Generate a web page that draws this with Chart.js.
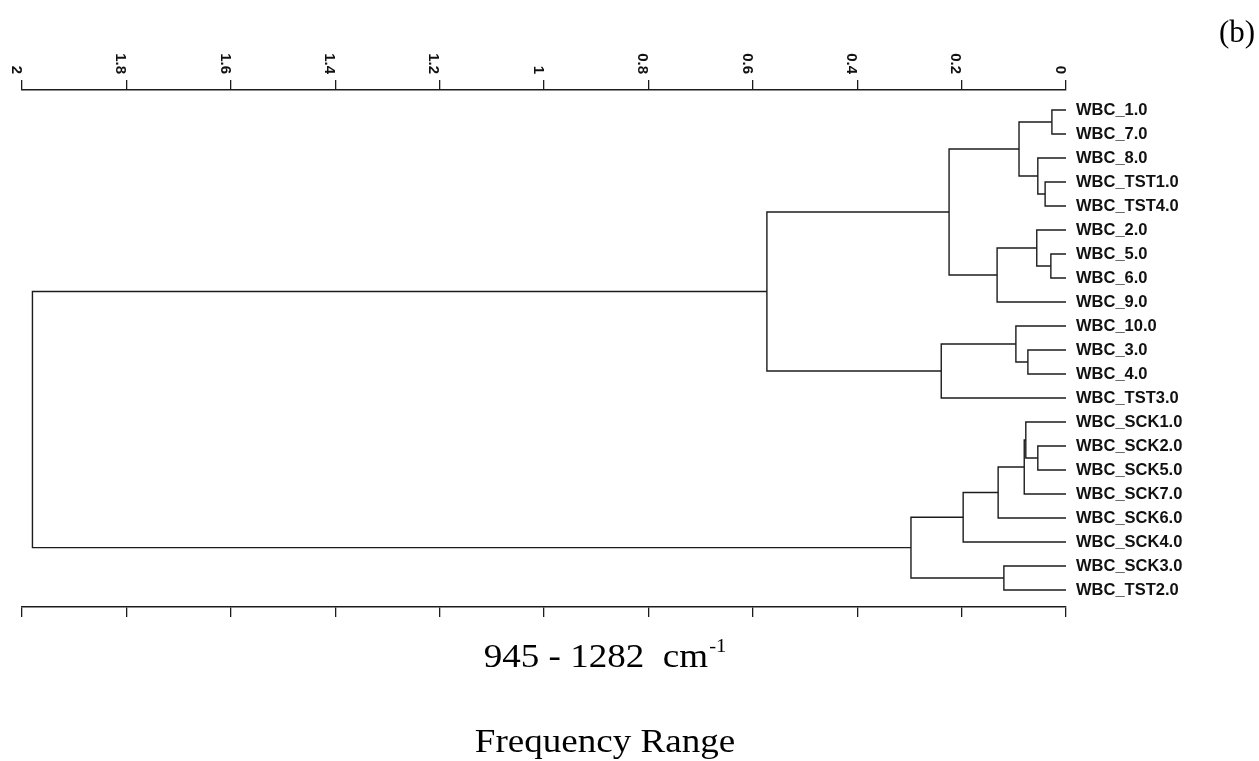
<!DOCTYPE html>
<html><head><meta charset="utf-8">
<script src="https://cdn.jsdelivr.net/npm/chart.js@4.4.0/dist/chart.umd.min.js"></script>
<style>html,body{margin:0;padding:0;background:#fff;} canvas{display:block}</style>
</head><body>
<canvas id="c" width="1259" height="761"></canvas>
<script>
const leafLabels = ['WBC_1.0','WBC_7.0','WBC_8.0','WBC_TST1.0','WBC_TST4.0','WBC_2.0','WBC_5.0','WBC_6.0','WBC_9.0',
  'WBC_10.0','WBC_3.0','WBC_4.0','WBC_TST3.0','WBC_SCK1.0','WBC_SCK2.0','WBC_SCK5.0','WBC_SCK7.0','WBC_SCK6.0',
  'WBC_SCK4.0','WBC_SCK3.0','WBC_TST2.0'];
// merges: node ids 0..20 are leaves, merge k creates node 21+k
const mergeLeft   = [0, 3, 2, 21, 6, 5, 26, 24, 10, 9, 30, 28, 14, 13, 34, 35, 36, 19, 37, 32];
const mergeRight  = [1, 4, 22, 23, 7, 25, 8, 27, 11, 29, 12, 31, 15, 33, 16, 17, 18, 20, 38, 39];
const mergeHeight = [0.027,0.040,0.054,0.090,0.029,0.056,0.132,0.224,0.073,0.096,0.239,0.573,0.054,0.077,0.080,0.130,0.197,0.119,0.297,1.98];
const axisTickValues = [2,1.8,1.6,1.4,1.2,1,0.8,0.6,0.4,0.2,0];
const axisTickLabels = ['2','1.8','1.6','1.4','1.2','1','0.8','0.6','0.4','0.2','0'];
const rangeLabel = '945 - 1282  cm';
const rangeSup = '-1';
const axisTitle = 'Frequency Range';
const panelLabel = '(b)';

const n = leafLabels.length;
const nodeY = leafLabels.map((_, i) => i);
const nodeH = leafLabels.map(() => 0);
const datasets = [];
mergeHeight.forEach((h, k) => {
  const l = mergeLeft[k], r = mergeRight[k];
  nodeY[n + k] = (nodeY[l] + nodeY[r]) / 2;
  nodeH[n + k] = h;
  datasets.push({
    data: [{x: nodeH[l], y: nodeY[l]}, {x: h, y: nodeY[l]}, {x: h, y: nodeY[r]}, {x: nodeH[r], y: nodeY[r]}],
    showLine: true, borderColor: '#1c1c1c', borderWidth: 1.4, pointRadius: 0, tension: 0, fill: false, clip: false
  });
});

const LINE = '#1c1c1c';
const fixedTicks = (scale) => { scale.ticks = axisTickValues.map(v => ({value: v})); };
const SERIF = '"Liberation Serif", "Times New Roman", serif';

const textPlugin = {
  id: 'texts',
  afterDraw(chart) {
    const ctx = chart.ctx;
    const xs = chart.scales.x;
    ctx.save();
    ctx.fillStyle = '#111';
    ctx.font = 'bold 15px "Liberation Sans", Arial, sans-serif';
    ctx.textAlign = 'right';
    ctx.textBaseline = 'middle';
    const top = xs.bottom - 10;
    axisTickValues.forEach((v, i) => {
      const px = xs.getPixelForValue(v);
      ctx.save();
      ctx.translate(px - 6, top - 6);
      ctx.rotate(Math.PI / 2);
      ctx.fillText(axisTickLabels[i], 0, 0);
      ctx.restore();
    });
    ctx.fillStyle = '#000';
    ctx.textBaseline = 'alphabetic';
    const cx = 605, sX = 1.09;
    ctx.font = '34px ' + SERIF;
    const w1 = ctx.measureText(rangeLabel).width * sX;
    ctx.font = '19px ' + SERIF;
    const w2 = ctx.measureText(rangeSup).width * sX;
    const sx = cx - (w1 + w2 + 1) / 2;
    ctx.save();
    ctx.translate(sx, 0);
    ctx.scale(sX, 1);
    ctx.textAlign = 'left';
    ctx.font = '34px ' + SERIF;
    ctx.fillText(rangeLabel, 0, 667);
    ctx.font = '19px ' + SERIF;
    ctx.fillText(rangeSup, w1 / sX + 1, 652);
    ctx.restore();
    ctx.save();
    ctx.translate(cx, 0);
    ctx.scale(sX, 1);
    ctx.textAlign = 'center';
    ctx.font = '34px ' + SERIF;
    ctx.fillText(axisTitle, 0, 752);
    ctx.restore();
    ctx.textAlign = 'center';
    ctx.font = '31px ' + SERIF;
    ctx.fillText(panelLabel, 1237, 42);
    ctx.restore();
  }
};

new Chart(document.getElementById('c'), {
  type: 'scatter',
  data: { datasets },
  options: {
    responsive: false,
    animation: false,
    layout: { padding: { left: 22, right: 0, top: 80, bottom: 144 } },
    plugins: { legend: { display: false }, tooltip: { enabled: false } },
    scales: {
      x: {
        type: 'linear', position: 'top', min: 0, max: 2, reverse: true,
        afterBuildTicks: fixedTicks,
        afterFit: (s) => { s.height = 10; },
        ticks: { display: false },
        grid: { drawOnChartArea: false, drawTicks: true, tickLength: 10, color: LINE, lineWidth: 1.3 },
        border: { display: true, color: LINE, width: 1.4 }
      },
      x2: {
        type: 'linear', position: 'bottom', min: 0, max: 2, reverse: true,
        afterBuildTicks: fixedTicks,
        afterFit: (s) => { s.height = 10; },
        ticks: { display: false },
        grid: { drawOnChartArea: false, drawTicks: true, tickLength: 10, color: LINE, lineWidth: 1.3 },
        border: { display: true, color: LINE, width: 1.4 }
      },
      y: {
        type: 'linear', position: 'right', min: -0.833, max: 20.71, reverse: true,
        afterBuildTicks: (s) => { s.ticks = leafLabels.map((_, i) => ({value: i})); },
        afterFit: (s) => { s.width = 193; },
        ticks: {
          autoSkip: false, padding: 10, color: '#111',
          font: { family: '"Liberation Sans", Arial, sans-serif', weight: 'bold', size: 16.5 },
          callback: (v) => leafLabels[v]
        },
        grid: { display: false, drawTicks: false },
        border: { display: false }
      }
    }
  },
  plugins: [textPlugin]
});
</script>
</body></html>
